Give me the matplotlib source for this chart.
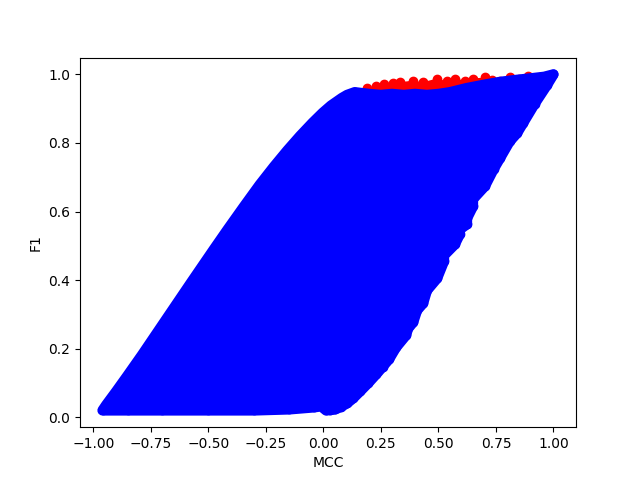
import matplotlib
matplotlib.use("Agg")
import matplotlib.pyplot as plt

# points along the outline of the blue cloud
top_mcc = [-0.96, -0.944, -0.901, -0.853, -0.788, -0.679, -0.575, -0.476, -0.417, -0.345,
           -0.277, -0.215, -0.157, -0.102, -0.047, -0.003, 0.033, 0.08, 0.103, 0.136,
           0.198, 0.25, 0.298, 0.35, 0.398, 0.45, 0.502, 0.55, 0.623, 0.70, 0.767,
           0.84, 0.909, 0.96, 1.0]
top_f1 = [0.02, 0.036, 0.075, 0.12, 0.182, 0.29, 0.393, 0.49, 0.547, 0.615,
          0.678, 0.731, 0.778, 0.82, 0.859, 0.888, 0.909, 0.931, 0.94, 0.948,
          0.943, 0.940, 0.943, 0.940, 0.943, 0.940, 0.943, 0.948, 0.960, 0.970, 0.978,
          0.984, 0.989, 0.993, 1.0]

right_mcc = [0.971, 0.919, 0.867, 0.841, 0.810, 0.767, 0.741, 0.702, 0.650, 0.650,
             0.624, 0.624, 0.593, 0.593, 0.571, 0.524, 0.524, 0.494, 0.450, 0.433,
             0.407, 0.390, 0.368, 0.359, 0.316, 0.285, 0.257, 0.229, 0.195, 0.160,
             0.13, 0.103, 0.075, 0.051, 0.03, 0.012]
right_f1 = [0.968, 0.915, 0.857, 0.828, 0.805, 0.755, 0.725, 0.674, 0.636, 0.615,
            0.580, 0.563, 0.548, 0.534, 0.504, 0.472, 0.455, 0.405, 0.370, 0.332,
            0.312, 0.277, 0.259, 0.239, 0.204, 0.169, 0.147, 0.125, 0.1, 0.076,
            0.056, 0.041, 0.03, 0.023, 0.021, 0.02]

bottom_mcc = [-0.01, -0.04, -0.15, -0.3, -0.5, -0.7, -0.85]
bottom_f1 = [0.032, 0.029, 0.023, 0.02, 0.02, 0.02, 0.02]

# red points that stick out above the blue ones
red_mcc = [0.159, 0.19, 0.229, 0.263, 0.302, 0.333, 0.389, 0.432, 0.493, 0.537, 0.571,
           0.615, 0.649, 0.702, 0.735, 0.767, 0.81, 0.85, 0.888, 0.94]
red_f1 = [0.947, 0.959, 0.965, 0.971, 0.974, 0.977, 0.982, 0.977, 0.988, 0.980, 0.988,
          0.982, 0.988, 0.991, 0.985, 0.982, 0.991, 0.988, 0.994, 0.991]
red_low_mcc = [0.94, 0.82, 0.72, 0.62, 0.52, 0.42, 0.32, 0.22]
red_low_f1 = [0.985, 0.975, 0.965, 0.955, 0.945, 0.945, 0.945, 0.945]

outline_mcc = top_mcc + right_mcc + bottom_mcc
outline_f1 = top_f1 + right_f1 + bottom_f1

fig, ax = plt.subplots()

# the inside of each cloud is solid, the blue stroke has the width of one marker
ax.fill(red_mcc + red_low_mcc, red_f1 + red_low_f1, facecolor="red", linewidth=0, zorder=1)
ax.scatter(red_mcc, red_f1, color="red", zorder=1)

ax.fill(outline_mcc, outline_f1, facecolor="blue", edgecolor="blue",
        linewidth=7.5, joinstyle="round", zorder=2)
ax.scatter(outline_mcc, outline_f1, color="blue", zorder=3)

ax.set_xlabel("MCC")
ax.set_ylabel("F1")

plt.savefig("out.png")
